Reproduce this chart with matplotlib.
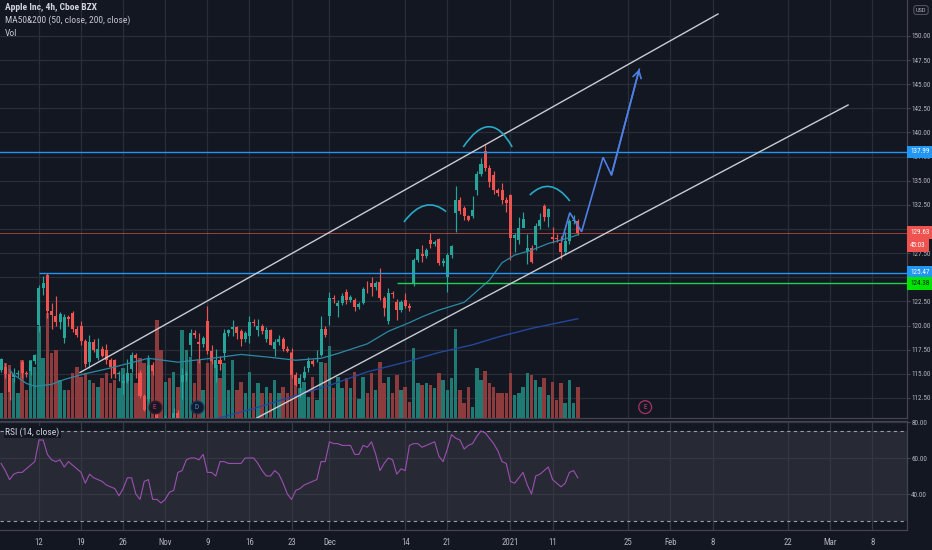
import numpy as np
import matplotlib
matplotlib.use('Agg')
import matplotlib.pyplot as plt
from matplotlib.path import Path
from matplotlib.patches import PathPatch
import matplotlib.transforms as mtransforms
from matplotlib import font_manager as fm

# ---------------- data ----------------
opens = [115.4, 115.7, 115.0, 114.62, 115.0, 116.25, 115.1, 115.28, 116.3, 120.06,
         123.9, 125.27, 121.5, 121.0, 120.4, 118.72, 120.9, 121.28, 119.6, 119.96,
         118.4, 116.2, 118.3, 116.67, 117.6, 117.45, 116.4, 116.39, 115.0, 114.01,
         114.2, 115.49, 116.9, 115.05, 112.7, 112.37, 115.9, 111.06, 109.5, 109.11,
         109.5, 109.66, 110.9, 114.14, 114.9, 117.95, 119.2, 118.32, 118.1, 120.5,
         117.4, 115.55, 116.4, 117.19, 119.2, 119.62, 119.8, 119.44, 118.6, 118.92,
         120.4, 119.55, 119.9, 118.61, 119.5, 117.59, 118.3, 118.64, 117.6, 117.18,
         114.9, 113.91, 114.6, 115.55, 116.3, 116.57, 116.97, 119.6, 121.01, 122.9,
         122.02, 122.3, 123.52, 122.6, 122.6, 121.9, 122.31, 123.8, 124.37, 124.0,
         124.53, 122.8, 120.5, 123.4, 122.43, 121.6, 122.6, 122.0, 124.34, 126.8,
         127.41, 127.2, 128.9, 128.4, 128.96, 126.5, 125.02, 127.3, 131.61, 133.0,
         132.16, 131.3, 131.32, 133.99, 135.7, 138.05, 136.3, 135.58, 134.0, 134.08,
         133.0, 133.52, 129.1, 128.89, 130.1, 127.72, 128.0, 128.36, 130.3, 132.43,
         131.2, 129.19, 129.0, 128.5, 127.6, 128.76, 130.8, 130.8]
highs = [116.65, 116.12, 115.3, 115.55, 115.4, 116.4, 115.3, 116.4, 117.0, 124.2,
         125.18, 125.39, 122.3, 123.03, 121.4, 121.2, 121.1, 121.55, 119.9, 120.42,
         118.6, 118.98, 118.6, 118.71, 117.9, 118.04, 116.6, 116.55, 115.3, 115.0,
         116.55, 117.28, 117.1, 115.43, 112.9, 116.93, 116.2, 111.99, 110.0, 110.68,
         109.8, 111.49, 111.2, 115.59, 115.3, 119.62, 119.5, 119.2, 118.9, 121.99,
         118.0, 117.59, 116.8, 119.63, 119.6, 120.53, 120.0, 119.67, 119.4, 120.99,
         120.7, 120.67, 120.2, 119.82, 119.6, 118.6, 119.06, 118.77, 117.9, 117.62,
         115.2, 115.0, 115.85, 116.75, 116.5, 117.49, 120.97, 119.9, 123.47, 123.2,
         122.6, 123.37, 123.78, 123.2, 122.86, 122.4, 124.0, 124.57, 124.98, 124.6,
         125.95, 123.1, 123.87, 123.6, 122.76, 122.6, 123.35, 122.3, 127.0, 127.9,
         128.37, 128.0, 129.58, 128.9, 129.1, 127.0, 127.5, 128.31, 134.41, 133.3,
         132.43, 131.5, 133.46, 136.0, 137.34, 138.79, 136.6, 135.99, 134.3, 134.74,
         133.3, 133.61, 129.6, 131.2, 131.74, 129.5, 128.3, 130.6, 131.63, 132.63,
         132.2, 130.17, 129.5, 129.3, 129.69, 131.0, 131.45, 131.0]
lows = [115.2, 114.6, 112.25, 114.13, 114.7, 114.59, 114.7, 114.92, 116.0, 119.28,
        123.2, 120.8, 119.65, 120.0, 119.62, 118.15, 120.0, 119.3, 118.81, 118.0,
        115.66, 115.63, 117.3, 116.45, 116.7, 116.0, 114.59, 114.6, 114.28, 112.88,
        114.0, 115.2, 114.54, 112.5, 111.1, 112.2, 114.9, 108.2, 107.72, 107.32,
        108.4, 108.73, 109.9, 112.35, 114.2, 116.87, 118.7, 116.13, 117.8, 117.0,
        116.05, 114.13, 115.4, 116.44, 118.9, 118.9, 118.57, 117.87, 118.3, 118.15,
        120.0, 118.96, 119.1, 118.3, 118.0, 116.81, 118.0, 117.4, 117.29, 114.6,
        113.75, 112.59, 114.4, 115.17, 115.8, 116.22, 116.81, 118.8, 120.01, 122.3,
        120.89, 122.1, 122.21, 122.4, 121.52, 121.7, 122.25, 123.4, 123.09, 123.7,
        122.6, 121.0, 120.15, 122.9, 120.55, 121.4, 121.8, 121.54, 124.13, 126.6,
        126.56, 127.0, 128.04, 128.2, 126.3, 126.12, 123.45, 127.0, 129.65, 131.6,
        130.9, 130.78, 131.1, 133.51, 135.5, 136.0, 134.34, 133.6, 133.4, 132.6,
        131.72, 126.76, 127.6, 128.43, 130.5, 126.38, 126.5, 127.86, 130.0, 130.8,
        130.23, 128.5, 128.7, 126.86, 127.4, 128.49, 130.5, 129.4]
closes = [116.5, 115.0, 113.16, 115.0, 115.08, 115.1, 114.97, 116.3, 116.97, 123.9,
          124.4, 121.5, 121.1, 120.4, 121.19, 120.9, 120.71, 119.6, 119.02, 118.4,
          115.98, 118.3, 117.51, 117.6, 116.87, 116.4, 115.75, 115.0, 115.04, 114.2,
          115.05, 116.9, 116.6, 112.7, 111.2, 115.9, 115.32, 109.5, 108.86, 109.5,
          108.77, 110.9, 110.44, 114.9, 114.95, 119.2, 119.03, 118.1, 118.69, 117.4,
          116.32, 116.4, 115.97, 119.2, 119.49, 119.8, 119.21, 118.6, 119.26, 120.4,
          120.3, 119.9, 119.39, 119.5, 118.03, 118.3, 118.64, 117.6, 117.34, 114.9,
          113.85, 114.6, 115.17, 116.3, 116.03, 116.59, 119.6, 119.05, 122.9, 122.72,
          122.3, 123.08, 122.6, 122.94, 121.9, 122.25, 123.8, 123.75, 124.0, 124.38,
          122.8, 121.78, 123.4, 123.24, 121.6, 122.41, 122.0, 121.78, 126.8, 127.88,
          127.2, 127.81, 128.4, 128.7, 126.5, 126.66, 127.3, 128.23, 133.0, 131.88,
          131.3, 130.96, 131.97, 135.7, 136.69, 136.3, 134.87, 134.0, 133.72, 133.0,
          132.69, 129.1, 129.41, 130.1, 131.01, 128.0, 126.6, 130.3, 130.92, 131.2,
          132.05, 129.0, 128.98, 127.6, 128.8, 130.8, 130.89, 129.63]
volumes = [38, 83, 80, 60, 38, 87, 42, 87, 77, 138,
           90, 158, 98, 102, 57, 42, 42, 68, 77, 62,
           68, 57, 53, 47, 60, 68, 53, 57, 45, 75,
           60, 68, 53, 90, 83, 90, 75, 147, 102, 54,
           60, 69, 47, 132, 102, 92, 53, 87, 42, 83,
           87, 80, 60, 83, 42, 87, 42, 54, 38, 69,
           38, 53, 38, 47, 38, 57, 38, 47, 38, 99,
           60, 45, 54, 32, 62, 27, 84, 83, 108, 45,
           62, 45, 60, 45, 69, 29, 62, 38, 68, 42,
           84, 53, 62, 38, 65, 42, 47, 24, 105, 53,
           50, 53, 50, 45, 68, 57, 42, 60, 134, 42,
           23, 47, 17, 75, 57, 71, 53, 47, 38, 38,
           38, 68, 35, 38, 47, 68, 65, 57, 47, 60,
           35, 54, 27, 53, 23, 57, 23, 47]
rsi_values = [57, 53, 48, 51, 52, 52, 54, 56, 58, 70,
              70, 62, 59, 58, 59, 55, 58, 56, 54, 52,
              46, 51, 49, 48, 47, 45, 44, 43, 39, 43,
              49, 49, 40, 37, 47, 48, 37, 37, 35, 37,
              41, 42, 52, 53, 59, 60, 60, 59, 62, 52,
              52, 50, 58, 58, 57, 57, 57, 57, 60, 60,
              60, 57, 53, 50, 50, 53, 51, 46, 40, 37,
              42, 43, 45, 46, 47, 48, 58, 58, 69, 68,
              68, 67, 67, 67, 62, 62, 67, 66, 69, 62,
              53, 57, 60, 59, 51, 54, 53, 67, 68, 68,
              66, 67, 68, 69, 61, 58, 65, 73, 71, 70,
              65, 67, 68, 72, 75, 74, 71, 68, 64, 58,
              57, 47, 46, 49, 52, 45, 40, 50, 51, 53,
              55, 48, 46, 44, 46, 52, 53, 49]

ma50_bars = [2, 3, 6, 8, 12, 15, 19, 26, 35, 42, 50, 57, 64, 70, 76, 80, 87, 92, 97,
             100, 104, 110, 116, 119, 122, 126, 130, 135, 137]
ma50_values = [115.4, 114.9, 114.0, 113.7, 113.9, 114.4, 114.9, 115.6, 116.6, 116.2,
               116.6, 117.0, 116.7, 116.4, 116.6, 117.1, 118.1, 119.4, 120.3, 120.9,
               121.6, 122.4, 124.7, 126.5, 127.3, 127.8, 128.5, 129.1, 129.4]
ma200_bars = [50, 60, 69, 78, 87, 96, 104, 112, 118, 126, 137]
ma200_values = [110.2, 111.4, 112.6, 113.8, 115.2, 116.2, 117.2, 118.0, 118.8, 119.7, 120.7]

# trading calendar (4h bars: two per session, one on half days)
first_session = '2020-10-05'          # first visible bar = second bar of this session
holidays = ['2020-11-26', '2020-12-25', '2021-01-01', '2021-01-18', '2021-02-15']
half_days = ['2020-11-27', '2020-12-24']
tick_days = ['2020-10-12', '2020-10-19', '2020-10-26', '2020-11-02', '2020-11-09',
             '2020-11-16', '2020-11-23', '2020-12-01', '2020-12-14', '2020-12-21',
             '2021-01-04', '2021-01-11', '2021-01-25', '2021-02-01', '2021-02-08',
             '2021-02-22', '2021-03-01', '2021-03-08']
tick_labels = ['12', '19', '26', 'Nov', '9', '16', '23', 'Dec', '14', '21',
               '2021', '11', '25', 'Feb', '8', '22', 'Mar', '8']

price_ticks = [112.5, 115.0, 117.5, 120.0, 122.5, 125.0, 127.5, 130.0, 132.5, 135.0,
               137.5, 140.0, 142.5, 145.0, 147.5, 150.0]
# 125.00 and 130.00 are hidden behind the price boxes in the reference
price_tick_labels = ['112.50', '115.00', '117.50', '120.00', '122.50', '', '127.50', '',
                     '132.50', '135.00', '137.50', '140.00', '142.50', '145.00', '147.50',
                     '150.00']
rsi_ticks = [40, 60, 80]
rsi_tick_labels = ['40.00', '60.00', '80.00']
rsi_bands = [25, 75]

level_top = 137.99
level_mid = 125.47
level_green = 124.38
last_price = 129.63
countdown = '45:03'
level_mid_start = 9
level_green_start = 94

upper_channel_bars = [18.74, 170.3]
upper_channel_prices = [115.13, 152.28]
lower_channel_bars = [60.5, 201.2]
lower_channel_prices = [110.36, 142.85]

arc_left = [(95.7, 130.73), (100.7, 132.44), (105.7, 131.8)]
arc_head = [(109.8, 138.5), (115.9, 140.6), (121.4, 138.5)]
arc_right = [(125.6, 133.52), (130.4, 134.4), (135.1, 132.9)]

arrow_bars = [133.2, 135.1, 137.9, 143.0, 145.0, 151.6]
arrow_prices = [128.8, 131.69, 129.72, 137.43, 135.60, 146.55]

event_bars = [36.5, 46.5, 153]
event_letters = ['E', 'D', 'E']
event_future = [False, False, True]

# ---------------- fonts: prefer a condensed face like the reference ----------------
def pick_font():
    for fam in ['Roboto Condensed', 'Liberation Sans Narrow', 'Open Sans Condensed',
                'DejaVu Sans Condensed']:
        try:
            fm.findfont(fm.FontProperties(family=fam), fallback_to_default=False)
            return fam, 'normal', 1.0
        except Exception:
            pass
    return 'Liberation Sans', 'normal', 0.8


FAM, STRETCH, FS = pick_font()
plt.rcParams['font.family'] = [FAM, 'DejaVu Sans']
LAB = 6.3 * FS     # axis label size (shrunk below if it does not fit)
LEG = 6.8 * FS     # legend size
BOXPAD = 0.4

# ---------------- styling ----------------
BG = '#131722'
GRID = '#2a2e39'
SPINE = '#434651'
TXT = '#b2b5be'
GREEN = '#26a69a'
RED = '#ef5350'
VGREEN = '#1e7a73'
VRED = '#8e3b3e'

W, H = 932, 550
fig = plt.figure(figsize=(W / 100, H / 100), dpi=100, facecolor=BG)

main_rect = [0, 1 - 418 / H, 907 / W, 418 / H]
rsi_rect = [0, 1 - 530 / H, 907 / W, (530 - 421) / H]

ax_grid = fig.add_axes(main_rect, zorder=1)
ax_vol = fig.add_axes(main_rect, zorder=2, sharex=ax_grid)
ax_main = fig.add_axes(main_rect, zorder=3, sharex=ax_grid)
ax_rsi = fig.add_axes(rsi_rect, zorder=1, sharex=ax_grid)


def bar_of(day):
    n = int(np.busday_count(first_session, day, holidays=holidays))
    h = sum(1 for d in half_days if d < day)
    return 2 * n - h - 1


tick_pos = [bar_of(d) for d in tick_days]
x_left, x_right = -0.26, 215.2
price_lo, price_hi = 110.415, 153.73

# grid / axis layer
ax_grid.set_facecolor(BG)
ax_grid.set_xlim(x_left, x_right)
ax_grid.set_ylim(price_lo, price_hi)
ax_grid.set_xticks(tick_pos)
ax_grid.set_yticks(price_ticks)
ax_grid.set_yticklabels(price_tick_labels)
ax_grid.yaxis.tick_right()
ax_grid.tick_params(axis='x', which='both', length=0, labelbottom=False)
ax_grid.tick_params(axis='y', length=2.2, width=0.8, color=SPINE, labelcolor=TXT,
                    labelsize=LAB, pad=0.8)
ax_grid.grid(True, color=GRID, lw=0.9)
for s in ['top', 'left']:
    ax_grid.spines[s].set_visible(False)
for s in ['right', 'bottom']:
    ax_grid.spines[s].set_color(SPINE)
    ax_grid.spines[s].set_linewidth(0.9)

x = np.arange(len(closes))
o = np.array(opens)
c = np.array(closes)
up = c >= o

# volume layer
ax_vol.set_facecolor('none')
ax_vol.bar(x, volumes, width=0.82, color=np.where(up, VGREEN, VRED), lw=0)
ax_vol.set_ylim(0, 627)
ax_vol.axis('off')

# main price layer
ax_main.set_facecolor('none')
ax_main.set_ylim(price_lo, price_hi)
ax_main.axis('off')

cols = np.where(up, GREEN, RED)
ax_main.vlines(x, lows, highs, colors=cols, lw=0.85, zorder=3)
ax_main.bar(x, np.maximum(np.abs(c - o), 0.07), bottom=np.minimum(o, c), width=0.72,
            color=cols, lw=0, zorder=4)

ax_main.plot(ma50_bars, ma50_values, color='#2b8aa3', lw=0.9, zorder=5)
ax_main.plot(ma200_bars, ma200_values, color='#24479c', lw=1.0, zorder=5)

# horizontal levels
ax_main.axhline(level_top, color='#2196f3', lw=1.0, zorder=6)
ax_main.hlines(level_mid, level_mid_start, x_right, color='#2196f3', lw=1.0, zorder=6)
ax_main.hlines(level_green, level_green_start, x_right, color='#1fd14a', lw=1.0, zorder=6)
ax_main.axhline(last_price, color=RED, lw=0.6, alpha=0.75, zorder=2)

# channel lines
ax_main.plot(upper_channel_bars, upper_channel_prices, color='#c9ccd3', lw=1.0, zorder=7)
ax_main.plot(lower_channel_bars, lower_channel_prices, color='#c9ccd3', lw=1.0, zorder=7)

# arcs
for arc in (arc_left, arc_head, arc_right):
    (x0, y0), (xm, ym), (x1, y1) = arc
    cx, cy = 2 * xm - (x0 + x1) / 2, 2 * ym - (y0 + y1) / 2
    path = Path([(x0, y0), (cx, cy), (x1, y1)], [Path.MOVETO, Path.CURVE3, Path.CURVE3])
    ax_main.add_patch(PathPatch(path, fc='none', ec='#28a9c6', lw=1.2, zorder=8))

# projected path with arrow
ax_main.plot(arrow_bars, arrow_prices, color='#4f7fe3', lw=1.2, zorder=8,
             solid_joinstyle='miter')
ax_main.annotate('', xy=(arrow_bars[-1], arrow_prices[-1]),
                 xytext=(arrow_bars[-2], arrow_prices[-2]),
                 arrowprops=dict(arrowstyle='->,head_length=0.5,head_width=0.3',
                                 color='#4f7fe3', lw=1.2, shrinkA=0, shrinkB=0),
                 zorder=8)

# events
ev_tr = mtransforms.blended_transform_factory(ax_main.transData, ax_main.transAxes)
for eb, el, fut in zip(event_bars, event_letters, event_future):
    if el == 'E':
        fc, ec, tc = ('none', '#a8326a', '#c2417d') if fut else ('#1a1622', '#3b1e30', '#c2417d')
    else:
        fc, ec, tc = ('#111a2c', '#1d3354', '#3f8ce0')
    ax_main.scatter([eb], [0.026], s=85, transform=ev_tr, facecolor=fc, edgecolor=ec,
                    lw=0.9, zorder=9, clip_on=False)
    ax_main.text(eb, 0.026, el, transform=ev_tr, ha='center', va='center',
                 fontsize=5.2, color=tc, zorder=10)

# right side labels
lab_tr = mtransforms.blended_transform_factory(ax_main.transAxes, ax_main.transData)
boxes = []


def price_box(val, text, fc, tc='white', row=0):
    a = ax_main.annotate(text, xy=(1.0, val), xycoords=lab_tr,
                         xytext=(BOXPAD * LAB + 0.3, 0), textcoords='offset points',
                         ha='left', va='center', fontsize=LAB, color=tc,
                         annotation_clip=False, zorder=20,
                         bbox=dict(boxstyle=f'square,pad={BOXPAD}', fc=fc, ec='none'))
    boxes.append((a, row))


price_box(level_top, f'{level_top:.2f}', '#2196f3')
price_box(last_price, f'{last_price:.2f}', RED)
price_box(last_price, countdown, RED, row=1)
price_box(level_mid, f'{level_mid:.2f}', '#2196f3')
price_box(level_green, f'{level_green:.2f}', '#00e600', tc='#131722')

usd = fig.text(921 / W, 1 - 10 / H, 'USD', ha='center', va='center', fontsize=LAB * 0.9,
               color=TXT,
               bbox=dict(boxstyle='round,pad=0.3,rounding_size=0.4', fc=BG, ec='#50535e',
                         lw=0.8))

# legend texts
fig.text(5 / W, 1 - 7 / H, 'Apple Inc, 4h, Cboe BZX', ha='left', va='center',
         fontsize=LEG, color='#d1d4dc', fontweight='bold')
fig.text(5 / W, 1 - 20 / H, 'MA50&200 (50, close, 200, close)', ha='left', va='center',
         fontsize=LEG, color='#c5c8cf')
fig.text(5 / W, 1 - 33 / H, 'Vol', ha='left', va='center', fontsize=LEG, color='#c5c8cf')

# ---------------- RSI pane ----------------
ax_rsi.set_facecolor(BG)
ax_rsi.set_ylim(20, 80.56)
ax_rsi.axhspan(rsi_bands[0], rsi_bands[1], color='#272a35', lw=0, zorder=0)
for b in rsi_bands:
    ax_rsi.axhline(b, color='#9a9da6', lw=0.8, ls=(0, (3, 3)), zorder=1)
ax_rsi.plot(x, rsi_values, color='#9c4fb0', lw=0.8, zorder=3)
ax_rsi.set_xticks(tick_pos)
ax_rsi.set_xticklabels(tick_labels)
ax_rsi.set_yticks(rsi_ticks)
ax_rsi.set_yticklabels(rsi_tick_labels)
ax_rsi.yaxis.tick_right()
ax_rsi.tick_params(axis='x', length=0, labelcolor=TXT, labelsize=6.3 * FS, pad=5.5)
ax_rsi.tick_params(axis='y', length=2.2, width=0.8, color=SPINE, labelcolor=TXT,
                   labelsize=LAB, pad=0.8)
ax_rsi.grid(True, color='#343844', lw=0.9, zorder=0.5)
ax_rsi.set_axisbelow(True)
ax_rsi.spines['left'].set_visible(False)
for s in ['top', 'right', 'bottom']:
    ax_rsi.spines[s].set_color(SPINE)
    ax_rsi.spines[s].set_linewidth(0.9)
ax_rsi.text(5 / 907, 74.6, 'RSI (14, close)', transform=mtransforms.blended_transform_factory(
    ax_rsi.transAxes, ax_rsi.transData), ha='left', va='center', fontsize=LEG,
    color='#d1d4dc', zorder=5, bbox=dict(boxstyle='square,pad=0.15', fc=BG, ec='none'))
ax_rsi.set_xlim(x_left, x_right)

# ---------------- fit the right-hand price scale into its 25 px strip ----------------
fig.canvas.draw()
rend = fig.canvas.get_renderer()
ext = [t.get_window_extent(rend) for t in ax_grid.get_yticklabels() if t.get_text()]
lx = min(e.x0 for e in ext)
rx = max(e.x1 for e in ext)
limit = W - 1.2
scale = min(1.0, (limit - lx) / (rx - lx))
new = LAB * scale
ax_grid.tick_params(axis='y', labelsize=new)
ax_rsi.tick_params(axis='y', labelsize=new)
usd.set_fontsize(new * 0.9)
for a, row in boxes:
    a.set_fontsize(new)
    a.xyann = (BOXPAD * new + 0.3, 0)
fig.canvas.draw()
bb = boxes[1][0].get_bbox_patch().get_window_extent(rend)
box_h_pt = bb.height * 72 / fig.dpi
for a, row in boxes:
    if row == 1:
        a.xyann = (BOXPAD * new + 0.3, -box_h_pt - 0.2)

fig.savefig('out.png', dpi=100, facecolor=BG)
